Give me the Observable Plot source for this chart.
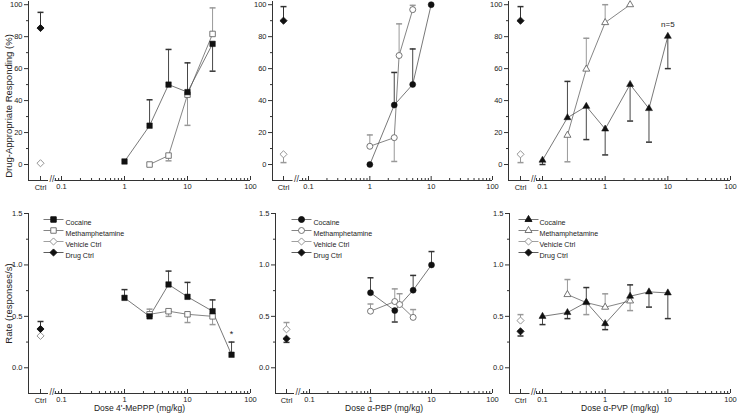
<!DOCTYPE html>
<html><head><meta charset="utf-8">
<script src="https://cdn.jsdelivr.net/npm/d3@7"></script>
<script src="https://cdn.jsdelivr.net/npm/@observablehq/plot@0.6"></script>
<style>
body{margin:0;background:#fff;}
#chart{position:relative;width:739px;height:419px;overflow:hidden;background:#fff;}
#chart svg{position:absolute;left:0;top:0;background:transparent;overflow:visible;}
</style></head><body><div id="chart"></div>
<script>
// ---------- labels / ticks ----------
const xTicks = [0.1, 1, 10, 100];
const xTickLabels = ["0.1", "1", "10", "100"];
const ctrlLabel = "Ctrl";
const darTicks = [0, 20, 40, 60, 80, 100];
const darTickLabels = ["0", "20", "40", "60", "80", "100"];
const darMinorTicks = [10, 30, 50, 70, 90];
const rateTicks = [0, 0.5, 1.0, 1.5];
const rateTickLabels = ["0.0", "0.5", "1.0", "1.5"];
const rateMinorTicks = [0.25, 0.75, 1.25];
const xTitles = ["Dose 4'-MePPP (mg/kg)", "Dose \u03b1-PBP (mg/kg)", "Dose \u03b1-PVP (mg/kg)"];
const yTitles = ["Drug-Appropriate Responding (%)", "Rate (responses/s)"];
const legendLabels = ["Cocaine", "Methamphetamine", "Vehicle Ctrl", "Drug Ctrl"];

// ---------- 4'-MePPP ----------
const mepppCocDose = [1, 2.5, 5, 10, 25];
const mepppCocDAR = [1.9, 24.3, 50, 45.3, 75.5];
const mepppCocDARErr = [1.9, 40.5, 72, 63.6, 58.4];
const mepppMethDose = [2.5, 5, 10, 25];
const mepppMethDAR = [0, 5.6, 43.7, 81.7];
const mepppMethDARErr = [0, 2.3, 24.5, 98];
const mepppVehDAR = [0.8, 0.8];   // [mean, error end]
const mepppDrugDAR = [85.4, 95.2];
const mepppCocRateDose = [1, 2.5, 5, 10, 25, 50];
const mepppCocRate = [0.68, 0.50, 0.81, 0.69, 0.55, 0.127];
const mepppCocRateErr = [0.76, 0.50, 0.94, 0.83, 0.66, 0.25];
const mepppMethRateDose = [2.5, 5, 10, 25];
const mepppMethRate = [0.52, 0.55, 0.52, 0.50];
const mepppMethRateErr = [0.57, 0.50, 0.44, 0.42];
const mepppVehRate = [0.31, 0.31];
const mepppDrugRate = [0.377, 0.45];

// ---------- alpha-PBP ----------
const pbpCocDose = [1, 2.5, 5, 10];
const pbpCocDAR = [0, 37.2, 50.1, 100];
const pbpCocDARErr = [0, 57.6, 72.3, 100];
const pbpMethDose = [1, 2.5, 3, 5];
const pbpMethDAR = [11.4, 16.8, 68.2, 96.9];
const pbpMethDARErr = [18.5, 1.9, 88, 99.6];
const pbpVehDAR = [6.4, 1.2];
const pbpDrugDAR = [90, 98.8];
const pbpCocRate = [0.73, 0.556, 0.754, 1.0];
const pbpCocRateErr = [0.875, 0.445, 0.898, 1.13];
const pbpMethRate = [0.55, 0.644, 0.615, 0.49];
const pbpMethRateErr = [0.62, 0.767, 0.72, 0.566];
const pbpVehRate = [0.374, 0.44];
const pbpDrugRate = [0.283, 0.247];

// ---------- alpha-PVP ----------
const pvpCocDose = [0.1, 0.25, 0.5, 1, 2.5, 5, 10];
const pvpCocDAR = [2.7, 29.3, 36.4, 22.2, 50.1, 35, 80.2];
const pvpCocDARErr = [0, 52, 15.6, 6, 27.2, 14, 60];
const pvpMethDose = [0.25, 0.5, 1, 2.5];
const pvpMethDAR = [18.3, 59.7, 88.8, 100];
const pvpMethDARErr = [1.7, 79, 100, 100];
const pvpVehDAR = [6.4, 1.2];
const pvpDrugDAR = [90, 98.8];
const pvpCocRate = [0.50, 0.537, 0.637, 0.429, 0.696, 0.738, 0.728];
const pvpCocRateErr = [0.42, 0.478, 0.78, 0.371, 0.806, 0.59, 0.478];
const pvpMethRate = [0.712, 0.634, 0.589, 0.65];
const pvpMethRateErr = [0.858, 0.517, 0.719, 0.556];
const pvpVehRate = [0.459, 0.517];
const pvpDrugRate = [0.354, 0.309];

const annotations = [{panel: 2, dose: 10, y: 80.2, text: "n=5"}, {panel: 3, dose: 50, y: 0.25, text: "*"}];

// ---------- build series ----------
const rows = (dose, mean, err) => dose.map((d, i) => ({dose: d, mean: mean[i], err: err[i]}));
const panelsData = [
  {coc: rows(mepppCocDose, mepppCocDAR, mepppCocDARErr), meth: rows(mepppMethDose, mepppMethDAR, mepppMethDARErr), veh: mepppVehDAR, drug: mepppDrugDAR, sym: "square"},
  {coc: rows(pbpCocDose, pbpCocDAR, pbpCocDARErr), meth: rows(pbpMethDose, pbpMethDAR, pbpMethDARErr), veh: pbpVehDAR, drug: pbpDrugDAR, sym: "circle"},
  {coc: rows(pvpCocDose, pvpCocDAR, pvpCocDARErr), meth: rows(pvpMethDose, pvpMethDAR, pvpMethDARErr), veh: pvpVehDAR, drug: pvpDrugDAR, sym: "triangle"},
  {coc: rows(mepppCocRateDose, mepppCocRate, mepppCocRateErr), meth: rows(mepppMethRateDose, mepppMethRate, mepppMethRateErr), veh: mepppVehRate, drug: mepppDrugRate, sym: "square"},
  {coc: rows(pbpCocDose, pbpCocRate, pbpCocRateErr), meth: rows(pbpMethDose, pbpMethRate, pbpMethRateErr), veh: pbpVehRate, drug: pbpDrugRate, sym: "circle"},
  {coc: rows(pvpCocDose, pvpCocRate, pvpCocRateErr), meth: rows(pvpMethDose, pvpMethRate, pvpMethRateErr), veh: pvpVehRate, drug: pvpDrugRate, sym: "triangle"}
];

// ---------- layout (pixels) ----------
const W = 739, H = 419;
const rowLayout = [{top: 1, bottom: 180}, {top: 213, bottom: 393}];
const colLayout = [
  [{left: 28, p01: 61, p100: 250, ctrl: 40, brk: 51.5}, {left: 272, p01: 308, p100: 492, ctrl: 283, brk: 296}, {left: 508, p01: 542, p100: 730, ctrl: 520, brk: 533}],
  [{left: 28, p01: 61, p100: 250, ctrl: 40, brk: 51.5}, {left: 275, p01: 309, p100: 492, ctrl: 286, brk: 297.5}, {left: 509, p01: 542, p100: 730, ctrl: 520, brk: 533}]
];
const legendLayout = [{sx: 25, tx: 37}, {sx: 26, tx: 38}, {sx: 19, tx: 30}];

const FONT = "'Liberation Sans', Arial, Helvetica, sans-serif";
const AX = "#333";
const COC = "#111", METH = "#666", LINE = "#555", ERRC = "#333", ERRM = "#999";
const TICKFS = 7.5;
const cap = {draw(ctx) { ctx.moveTo(-3, 0); ctx.lineTo(3, 0); }};
const hline = {draw(ctx) { ctx.moveTo(-10, 0); ctx.lineTo(10, 0); }};
const symR = {square: 3.1, circle: 3, triangle: 2.6};

const chart = document.getElementById("chart");

for (let p = 0; p < 6; p++) {
  const r = Math.floor(p / 3), c = p % 3;
  const L = colLayout[r][c], R = rowLayout[r];
  const D = panelsData[p];
  const decade = (L.p100 - L.p01) / 3;
  const xAt = px => 10 ** (-1 + (px - L.p01) / decade);
  const xmin = xAt(L.left), ctrlX = xAt(L.ctrl), brkL = xAt(L.brk - 3.5), brkR = xAt(L.brk + 3);
  const innerH = R.bottom - R.top;
  const yDomain = r === 0 ? [-10, 102] : [-0.25, 1.5];
  const ymin = yDomain[0];
  const yMajor = r === 0 ? darTicks : rateTicks;
  const yLabels = r === 0 ? darTickLabels : rateTickLabels;
  const yMinor = r === 0 ? darMinorTicks : rateMinorTicks;
  const minorX = [0.08, 0.09];
  for (const d of [0.1, 1, 10]) for (let k = 2; k <= 9; k++) minorX.push(d * k);
  const sym = D.sym, sr = symR[sym];
  const ctrlPts = [{x: ctrlX, mean: D.veh[0], err: D.veh[1], kind: "veh"}, {x: ctrlX, mean: D.drug[0], err: D.drug[1], kind: "drug"}];
  const hasErr = d => Math.abs(d.err - d.mean) > 1e-9;

  const marks = [
    // axes
    Plot.ruleX([xmin], {stroke: AX, strokeWidth: 1}),
    Plot.ruleY([ymin], {x1: xmin, x2: brkL, stroke: AX}),
    Plot.ruleY([ymin], {x1: brkR, x2: 100, stroke: AX}),
    Plot.text(["//"], {x: xAt(L.brk), y: ymin, text: d => d, fontSize: 9, fill: AX, dy: -1}),
    Plot.axisY(yMajor, {tickSize: 4, tickPadding: 2, label: null, stroke: AX, fill: "#222", fontSize: TICKFS, tickFormat: d => yLabels[yMajor.indexOf(d)]}),
    Plot.axisY(yMinor, {tickSize: 2, tickPadding: 0, label: null, stroke: AX, tickFormat: () => ""}),
    Plot.tickX(xTicks.concat([ctrlX]), {x: d => d, insetTop: innerH - 4, stroke: AX}),
    Plot.tickX(minorX, {x: d => d, insetTop: innerH - 2, stroke: AX}),
    Plot.axisX(xTicks, {tickSize: 0, tickPadding: 3, label: null, fill: "#222", fontSize: TICKFS, tickFormat: d => xTickLabels[xTicks.indexOf(d)]}),
    Plot.text([ctrlLabel], {x: ctrlX, y: ymin, text: d => d, dy: 7, fontSize: TICKFS, fill: "#222"}),
    // error bars
    Plot.ruleX(D.meth.filter(hasErr), {x: "dose", y1: "mean", y2: "err", stroke: ERRM, strokeWidth: 1}),
    Plot.dot(D.meth.filter(hasErr), {x: "dose", y: "err", symbol: cap, r: 3, stroke: ERRM, fill: "none"}),
    Plot.ruleX(D.coc.filter(hasErr), {x: "dose", y1: "mean", y2: "err", stroke: ERRC, strokeWidth: 0.9}),
    Plot.dot(D.coc.filter(hasErr), {x: "dose", y: "err", symbol: cap, r: 3, stroke: ERRC, fill: "none"}),
    Plot.ruleX(ctrlPts.filter(hasErr), {x: "x", y1: "mean", y2: "err", stroke: d => d.kind === "veh" ? ERRM : ERRC}),
    Plot.dot(ctrlPts.filter(hasErr), {x: "x", y: "err", symbol: cap, r: 3, stroke: d => d.kind === "veh" ? ERRM : ERRC, fill: "none"}),
    // lines
    Plot.line(D.meth, {x: "dose", y: "mean", stroke: METH, strokeWidth: 0.8}),
    Plot.line(D.coc, {x: "dose", y: "mean", stroke: LINE, strokeWidth: 0.8}),
    // markers
    Plot.dot(D.meth, {x: "dose", y: "mean", symbol: sym, r: sr, fill: "white", stroke: METH, strokeWidth: 0.9}),
    Plot.dot(D.coc, {x: "dose", y: "mean", symbol: sym, r: sr, fill: COC, stroke: COC, strokeWidth: 0.5}),
    Plot.dot(ctrlPts, {x: "x", y: "mean", symbol: "diamond2", r: 3.2, fill: d => d.kind === "veh" ? "white" : COC, stroke: d => d.kind === "veh" ? "#888" : COC, strokeWidth: 0.9})
  ];

  for (const a of annotations.filter(a => a.panel === p)) {
    marks.push(Plot.text([a], {x: "dose", y: "y", text: "text", dy: a.text === "*" ? -5 : -9, fontSize: a.text === "*" ? 9 : 8, fill: "#222", lineAnchor: "bottom"}));
  }

  if (c === 0) {
    marks.push(Plot.text([yTitles[r]], {frameAnchor: "left", text: d => d, rotate: -90, textAnchor: "middle", dx: -20, dy: r === 0 ? 15 : 0, fontSize: 9.5, fill: "#222"}));
  }
  if (r === 1) {
    marks.push(Plot.text([xTitles[c]], {frameAnchor: "bottom", text: d => d, dy: 17, fontSize: 8.5, fill: "#222"}));
    const LG = legendLayout[c];
    const entries = [
      {label: legendLabels[0], symbol: sym, r: sr, fill: COC, stroke: COC, line: LINE},
      {label: legendLabels[1], symbol: sym, r: sr, fill: "white", stroke: METH, line: METH},
      {label: legendLabels[2], symbol: "diamond2", r: 3.2, fill: "white", stroke: "#888", line: "#888"},
      {label: legendLabels[3], symbol: "diamond2", r: 3.2, fill: COC, stroke: COC, line: "#333"}
    ];
    entries.forEach((e, i) => {
      const dy = 6 + i * 11;
      marks.push(Plot.dot([e], {frameAnchor: "top-left", dx: LG.sx, dy, symbol: hline, r: 3, stroke: e.line, fill: "none", strokeWidth: 0.8}));
      marks.push(Plot.dot([e], {frameAnchor: "top-left", dx: LG.sx, dy, symbol: e.symbol, r: e.r, fill: e.fill, stroke: e.stroke, strokeWidth: 0.9}));
      marks.push(Plot.text([e], {frameAnchor: "top-left", dx: LG.tx, dy, text: "label", textAnchor: "start", fontSize: 7.1, fill: "#222"}));
    });
  }

  const svg = Plot.plot({
    width: W, height: H,
    marginLeft: L.left, marginRight: W - L.p100, marginTop: R.top, marginBottom: H - R.bottom,
    x: {type: "log", domain: [xmin, 100]},
    y: {domain: yDomain},
    style: {fontFamily: FONT, fontSize: "8px", color: "#222", background: "transparent", overflow: "visible"},
    marks
  });
  chart.appendChild(svg);
}
</script></body></html>
